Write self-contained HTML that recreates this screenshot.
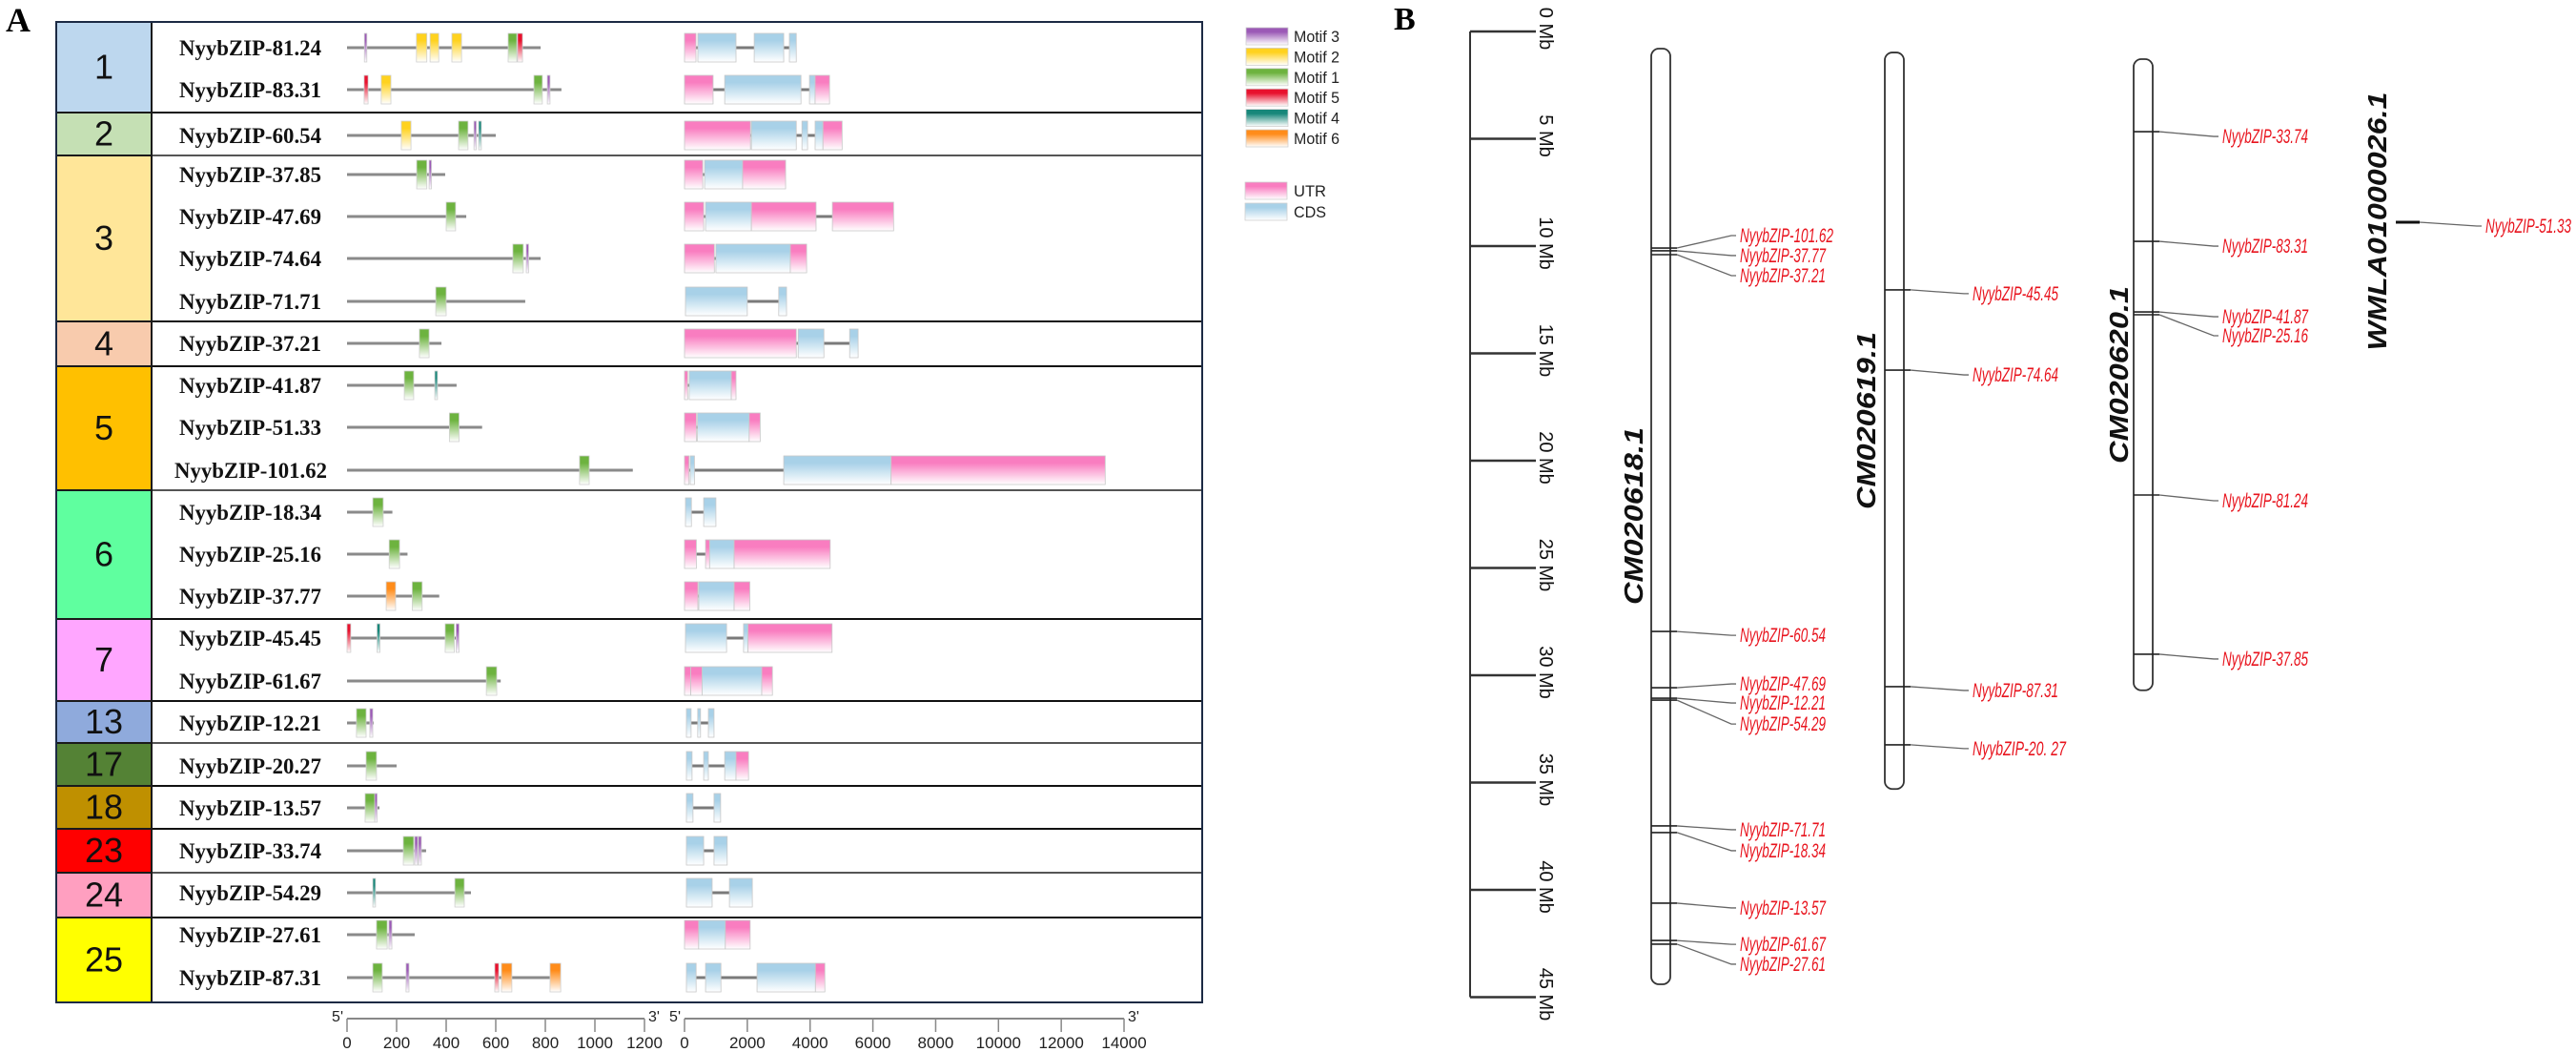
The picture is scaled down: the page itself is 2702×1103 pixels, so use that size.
<!DOCTYPE html>
<html><head><meta charset="utf-8">
<style>
html,body{margin:0;padding:0;background:#fff;}
svg{display:block;}
</style></head>
<body>
<svg id="fig" width="2702" height="1103" viewBox="0 0 2702 1103" xmlns="http://www.w3.org/2000/svg">
<defs id="defs"></defs>
<text x="6" y="33" font-family="Liberation Serif, serif" font-weight="bold" font-size="36">A</text>
<text x="1462" y="31" font-family="Liberation Serif, serif" font-weight="bold" font-size="34">B</text>
<g id="panelA"></g>
<g id="panelB"></g>
</svg>
<script>
// ---------- Panel A data ----------
const groupIds = ["1","2","3","4","5","6","7","13","17","18","23","24","25"];
const groupColors = ["#BDD7EE","#C5E0B4","#FFE699","#F8CBAD","#FFC000","#5FFF9F","#FFA6FF","#8FAADC","#548235","#BF9000","#FF0000","#FF9FC0","#FFFF00"];
const groupRowCounts = [2,1,4,1,3,3,2,1,1,1,1,1,2];
const geneNames = ["NyybZIP-81.24","NyybZIP-83.31","NyybZIP-60.54","NyybZIP-37.85","NyybZIP-47.69","NyybZIP-74.64","NyybZIP-71.71","NyybZIP-37.21","NyybZIP-41.87","NyybZIP-51.33","NyybZIP-101.62","NyybZIP-18.34","NyybZIP-25.16","NyybZIP-37.77","NyybZIP-45.45","NyybZIP-61.67","NyybZIP-12.21","NyybZIP-20.27","NyybZIP-13.57","NyybZIP-33.74","NyybZIP-54.29","NyybZIP-27.61","NyybZIP-87.31"];
const proteinLengths = [781,865,600,396,481,781,719,381,442,545,1153,183,244,372,452,620,108,200,131,319,500,273,862];
const motifs = [
 [[3,70,80],[2,280,322],[2,335,370],[2,423,462],[1,650,685],[5,688,708]],
 [[5,69,85],[2,138,177],[1,754,788],[3,808,819]],
 [[2,219,258],[1,450,488],[3,512,519],[4,531,542]],
 [[1,281,322],[3,331,338]],
 [[1,400,438]],
 [[1,669,711],[3,723,731]],
 [[1,358,400]],
 [[1,292,331]],
 [[1,231,269],[4,354,365]],
 [[1,413,452]],
 [[1,938,977]],
 [[1,104,146]],
 [[1,170,212]],
 [[6,158,196],[1,263,303]],
 [[5,0,15],[4,121,133],[1,396,433],[3,440,452]],
 [[1,562,604]],
 [[1,38,77],[3,92,104]],
 [[1,77,119]],
 [[1,73,112],[3,112,119]],
 [[1,227,269],[3,273,285],[3,288,300]],
 [[4,104,115],[1,435,473]],
 [[1,119,162],[3,169,181]],
 [[1,104,142],[3,238,250],[5,596,612],[6,623,665],[6,819,862]]
];
const structures = [
 [["U",0,365],["C",425,1640],["C",2220,3160],["C",3340,3560]],
 [["U",0,910],["C",1280,3710],["C",3980,4160],["U",4160,4620]],
 [["U",0,2100],["C",2130,3560],["C",3740,3920],["C",4160,4410],["U",4410,5020]],
 [["U",0,580],["C",640,1850],["U",1850,3220]],
 [["U",0,610],["C",670,2130],["U",2130,4190],["U",4710,6660]],
 [["U",0,950],["C",1000,3370],["U",3370,3890]],
 [["C",30,2000],["C",3000,3250]],
 [["U",0,3560],["C",3620,4440],["C",5260,5530]],
 [["U",0,100],["C",150,1490],["U",1490,1640]],
 [["U",0,377],["C",413,2060],["U",2060,2410]],
 [["U",0,143],["C",182,316],["C",3160,6580],["U",6580,13400]],
 [["C",30,220],["C",610,1000]],
 [["U",0,377],["U",670,800],["C",800,1580],["U",1580,4640]],
 [["U",0,425],["C",455,1580],["U",1580,2080]],
 [["C",30,1340],["C",1880,2020],["U",2020,4700]],
 [["U",0,200],["U",200,560],["C",560,2460],["U",2460,2800]],
 [["C",60,210],["C",420,510],["C",760,940]],
 [["C",60,240],["C",610,760],["C",1280,1640],["U",1640,2040]],
 [["C",60,270],["C",940,1150]],
 [["C",60,610],["C",940,1360]],
 [["C",60,880],["C",1430,2160]],
 [["U",0,450],["C",450,1300],["U",1300,2090]],
 [["C",60,370],["C",670,1160],["C",2310,4170],["U",4170,4470]]
];
const motifTicks = [0,200,400,600,800,1000,1200];
const geneTicks = [0,2000,4000,6000,8000,10000,12000,14000];
const motifLegend = [3,2,1,5,4,6];
const motifColors = {1:"#6DB33F",2:"#FFD21F",3:"#9B59B6",4:"#17877A",5:"#E8112D",6:"#FF8C1A"};

// ---------- Panel B data ----------
const axisTicksMb = [0,5,10,15,20,25,30,35,40,45];
const chromNames = ["CM020618.1","CM020619.1","CM020620.1"];
const chromStartMb = [0.8,0.98,1.29];
const chromEndMb = [44.4,35.3,30.7];
const chrom1Genes = ["NyybZIP-101.62","NyybZIP-37.77","NyybZIP-37.21","NyybZIP-60.54","NyybZIP-47.69","NyybZIP-12.21","NyybZIP-54.29","NyybZIP-71.71","NyybZIP-18.34","NyybZIP-13.57","NyybZIP-61.67","NyybZIP-27.61"];
const chrom1Pos = [10.09,10.22,10.4,27.96,30.58,31.07,31.16,37.02,37.33,40.62,42.36,42.53];
const chrom2Genes = ["NyybZIP-45.45","NyybZIP-74.64","NyybZIP-87.31","NyybZIP-20. 27"];
const chrom2Pos = [12.04,15.78,30.53,33.24];
const chrom3Genes = ["NyybZIP-33.74","NyybZIP-83.31","NyybZIP-41.87","NyybZIP-25.16","NyybZIP-81.24","NyybZIP-37.85"];
const chrom3Pos = [4.67,9.78,13.07,13.2,21.6,29.02];
const scaffoldName = "WMLA01000026.1";
const scaffoldGenes = ["NyybZIP-51.33"];
const scaffoldPos = [8.89];

// ---------- helpers ----------
const NS="http://www.w3.org/2000/svg";
function mk(tag, attrs, parent){const e=document.createElementNS(NS,tag);for(const k in attrs)e.setAttribute(k,attrs[k]);if(parent)parent.appendChild(e);return e;}
const defs=document.getElementById('defs');
function grad(id,color){const g=mk('linearGradient',{id:id,x1:0,y1:0,x2:0,y2:1},defs);mk('stop',{offset:'0','stop-color':color},g);mk('stop',{offset:'0.25','stop-color':color},g);mk('stop',{offset:'1','stop-color':'#ffffff'},g);}
for(const k in motifColors) grad('gm'+k,motifColors[k]);
grad('gU','#F97DC0');grad('gC','#A8D1E8');

const A=document.getElementById('panelA');
const xM = v => 364 + v*0.26;
const xG = v => 718 + v*0.03293;
const BOX_L=59, COL_R=159, BOX_R=1261, BOX_T=23;
const rowY=[50,94,142,183,227,271,316,360,404,448,493,537,581,625,669,714,758,803,847,892,936,980,1025];
const groupBottom=[118,163,337,384,514,649,735,779,824,869,915,962,1051];

let curTop=BOX_T;
groupIds.forEach((g,i)=>{
  const b=groupBottom[i];
  const r=mk('rect',{x:BOX_L,y:curTop,width:COL_R-BOX_L,height:b-curTop,fill:groupColors[i],stroke:'#1a1a1a','stroke-width':2},A);
  
  
  const t=mk('text',{x:(BOX_L+COL_R)/2,y:(curTop+b)/2+12,'text-anchor':'middle','font-family':'Liberation Sans, sans-serif','font-size':36,fill:'#111'},A);
  t.textContent=g;
  
  
  if(i<groupIds.length-1){
    const l=mk('line',{x1:COL_R,x2:BOX_R,y1:b,y2:b,stroke:(i%3==1?'#555':'#111'),'stroke-width':2},A);
    
    
  }
  curTop=b;
});
const frame=mk('rect',{x:BOX_L,y:BOX_T,width:BOX_R-BOX_L,height:1051-BOX_T,fill:'none',stroke:'#1c2a44','stroke-width':2},A);



geneNames.forEach((n,i)=>{
  const y=rowY[i];
  const t=mk('text',{x:(n.length>13?183:188),y:y+8,'font-family':'Liberation Serif, serif','font-weight':'bold','font-size':23,textLength:(n.length>13?160:149),lengthAdjust:'spacingAndGlyphs',fill:'#111'},A);
  t.textContent=n;
  
  
  const pl=mk('line',{x1:xM(0),x2:xM(proteinLengths[i]),y1:y,y2:y,stroke:'#8a8a8a','stroke-width':3},A);
  
  
  motifs[i].forEach(m=>{
    const x0=xM(m[1]),w=Math.max(2.5,xM(m[2])-x0);
    const r=mk('rect',{x:x0,y:y-15,width:w,height:30,fill:'url(#gm'+m[0]+')',stroke:'#d0d0d0','stroke-width':0.8},A);
    
    
  });
  const s=structures[i];
  const il=mk('line',{x1:xG(s[0][1]),x2:xG(s[s.length-1][2]),y1:y,y2:y,stroke:'#7a7a7a','stroke-width':3},A);
  
  
  s.forEach(seg=>{
    const x0=xG(seg[1]),w=Math.max(2.5,xG(seg[2])-x0);
    const r=mk('rect',{x:x0,y:y-15,width:w,height:30,fill:'url(#g'+seg[0]+')',stroke:'#c8c8c8','stroke-width':0.8},A);
    
    
  });
});

motifLegend.forEach((m,i)=>{
  const y=29+i*21.4;
  const r=mk('rect',{x:1307,y:y,width:44,height:18,fill:'url(#gm'+m+')',stroke:'#d0d0d0','stroke-width':0.8},A);
  
  
  const t=mk('text',{x:1357,y:y+15,'font-family':'Liberation Sans, sans-serif','font-size':17,textLength:48,lengthAdjust:'spacingAndGlyphs',fill:'#222'},A);
  t.textContent='Motif '+m;
  
  
});
[['U','UTR',191],['C','CDS',213]].forEach(d=>{
  const r=mk('rect',{x:1306,y:d[2],width:44,height:18,fill:'url(#g'+d[0]+')',stroke:'#d0d0d0','stroke-width':0.8},A);
  
  
  const t=mk('text',{x:1357,y:d[2]+15,'font-family':'Liberation Sans, sans-serif','font-size':17,textLength:34,lengthAdjust:'spacingAndGlyphs',fill:'#222'},A);
  t.textContent=d[1];
  
  
});

function scaleBar(ticks,fx,name){
  const g=mk('g',{},A);
  
  
  const x0=fx(ticks[0]),x1=fx(ticks[ticks.length-1]);
  mk('line',{x1:x0,x2:x1,y1:1068,y2:1068,stroke:'#888','stroke-width':2},g);
  ticks.forEach(v=>{
    mk('line',{x1:fx(v),x2:fx(v),y1:1068,y2:1082,stroke:'#888','stroke-width':1.5},g);
    const t=mk('text',{x:fx(v),y:1099,'text-anchor':'middle','font-family':'Liberation Sans, sans-serif','font-size':17,fill:'#222'},g);
    t.textContent=v;
    
    
  });
  const a=mk('text',{x:x0-4,y:1071,'text-anchor':'end','font-family':'Liberation Sans, sans-serif','font-size':16,fill:'#222'},g);a.textContent="5'";
  const b=mk('text',{x:x1+4,y:1071,'font-family':'Liberation Sans, sans-serif','font-size':16,fill:'#222'},g);b.textContent="3'";
}
scaleBar(motifTicks,xM,'motif-scale-axis');
scaleBar(geneTicks,xG,'gene-scale-axis');

// ---------- Panel B ----------
const B=document.getElementById('panelB');
const yMb = v => 33 + v*22.5;
const ax=mk('line',{x1:1542,x2:1542,y1:yMb(0),y2:yMb(45),stroke:'#333','stroke-width':2},B);


axisTicksMb.forEach(v=>{
  const y=yMb(v);
  mk('line',{x1:1542,x2:1611,y1:y,y2:y,stroke:'#333','stroke-width':2.5},B);
  const t=mk('text',{x:0,y:0,transform:'translate(1615,'+(y-3)+') rotate(90)','text-anchor':'middle','font-family':'Liberation Sans, sans-serif','font-size':20,fill:'#111'},B);
  t.textContent=v+' Mb';
  
  
});

const chromX=[1732,1977,2238];
const chromLabelX=[1713,1957,2222];
const chromLabelY=[541,441,393];
const chromGenes=[chrom1Genes,chrom2Genes,chrom3Genes];
const chromPos=[chrom1Pos,chrom2Pos,chrom3Pos];
const labelOffsets=[[-13,5,22,4,-4,5,25,4,19,5,4,21],[4,5,4,4],[5,5,5,22,6,5]];
const lineEnd=[1821,2065,2327];
chromNames.forEach((nm,c)=>{
  const x=chromX[c],yt=yMb(chromStartMb[c]),yb=yMb(chromEndMb[c]);
  const r=mk('rect',{x:x,y:yt,width:20,height:yb-yt,rx:8,ry:8,fill:'#fff',stroke:'#333','stroke-width':1.8},B);
  
  
  const t=mk('text',{x:0,y:0,transform:'translate('+(chromLabelX[c]+10)+','+chromLabelY[c]+') rotate(-90)','text-anchor':'middle','font-family':'Liberation Sans, sans-serif','font-weight':'bold','font-style':'italic','font-size':28,textLength:186,lengthAdjust:'spacingAndGlyphs',fill:'#111'},B);
  t.textContent=nm;
  
  
  chromGenes[c].forEach((g,i)=>{
    const y=yMb(chromPos[c][i]);
    const ly=y+labelOffsets[c][i];
    mk('line',{x1:x,x2:x+27,y1:y,y2:y,stroke:'#222','stroke-width':1.6},B);
    const l=mk('polyline',{points:(x+27)+','+y+' '+(lineEnd[c]-5)+','+ly+' '+lineEnd[c]+','+ly,fill:'none',stroke:'#666','stroke-width':1.3},B);
    
    
    const t2=mk('text',{x:lineEnd[c]+4,y:ly+7,'font-family':'Liberation Sans, sans-serif','font-style':'italic','font-size':21,textLength:(g.length>13?98:90),lengthAdjust:'spacingAndGlyphs',fill:'#E8141E'},B);
    t2.textContent=g;
    
    
  });
});
const sl=mk('text',{x:0,y:0,transform:'translate(2503,232) rotate(-90)','text-anchor':'middle','font-family':'Liberation Sans, sans-serif','font-weight':'bold','font-style':'italic','font-size':28,textLength:271,lengthAdjust:'spacingAndGlyphs',fill:'#111'},B);
sl.textContent=scaffoldName;


scaffoldGenes.forEach((g,i)=>{
  const y=yMb(scaffoldPos[i]);
  mk('line',{x1:2513,x2:2538,y1:y,y2:y,stroke:'#111','stroke-width':3},B);
  const l=mk('polyline',{points:'2538,'+y+' 2598,'+(y+4)+' 2603,'+(y+4),fill:'none',stroke:'#666','stroke-width':1.3},B);
  
  
  const t=mk('text',{x:2607,y:y+11,'font-family':'Liberation Sans, sans-serif','font-style':'italic','font-size':21,textLength:90,lengthAdjust:'spacingAndGlyphs',fill:'#E8141E'},B);
  t.textContent=g;
  
  
});
</script>
</body></html>
